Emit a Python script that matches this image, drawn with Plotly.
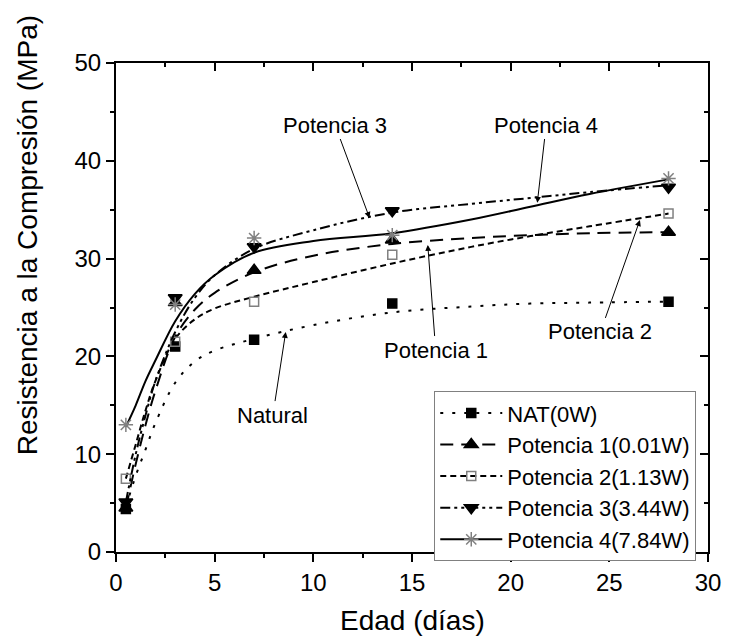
import plotly.graph_objects as go

# ---- measured data points ----
days = [0.5, 3, 7, 14, 28]
nat = [4.4, 21.0, 21.7, 25.4, 25.6]
pot1 = [4.5, 25.5, 28.8, 31.9, 32.7]
pot2 = [7.5, 21.5, 25.6, 30.4, 34.6]
pot3 = [5.1, 26.0, 31.2, 34.9, 37.3]
pot4 = [13.0, 25.3, 32.1, 32.4, 38.2]

# ---- fitted curves ----
curve_days = [0.5, 1, 1.5, 2, 3, 4, 5, 7, 10, 14, 18, 21, 24, 28]
nat_curve = [4.6, 7.8, 10.5, 13.2, 17.3, 19.5, 20.6, 21.8, 23.2, 24.5, 25.1, 25.4, 25.5, 25.6]
pot1_curve = [4.5, 9.0, 13.0, 16.5, 22.0, 24.8, 26.5, 28.6, 30.3, 31.5, 32.1, 32.4, 32.6, 32.7]
pot2_curve = [7.5, 11.0, 14.5, 17.5, 21.8, 23.8, 24.9, 26.1, 27.6, 29.5, 31.2, 32.3, 33.3, 34.6]
pot3_curve = [5.1, 10.0, 14.0, 17.5, 22.5, 26.0, 28.3, 31.0, 32.9, 34.7, 35.6, 36.2, 36.8, 37.5]
pot4_curve = [12.8, 15.0, 17.5, 19.6, 23.6, 26.4, 28.3, 30.6, 31.8, 32.6, 34.0, 35.3, 36.6, 38.1]

names = ["NAT(0W)", "Potencia 1(0.01W)", "Potencia 2(1.13W)", "Potencia 3(3.44W)", "Potencia 4(7.84W)"]

FONT = "Liberation Sans, Arial, sans-serif"

styles = [
    dict(dash="3px,9px", symbol="square", mcolor="black", msize=9, mline="black"),
    dict(dash="13px,8px", symbol="triangle-up", mcolor="black", msize=12, mline="black"),
    dict(dash="6px,4px", symbol="square-open", mcolor="#808080", msize=9, mline="#808080"),
    dict(dash="10px,4px,3px,4px,3px,4px", symbol="triangle-down", mcolor="black", msize=12, mline="black"),
    dict(dash="solid", symbol="asterisk-open", mcolor="#808080", msize=12, mline="#808080"),
]

points = [nat, pot1, pot2, pot3, pot4]
curves = [nat_curve, pot1_curve, pot2_curve, pot3_curve, pot4_curve]

fig = go.Figure()

for name, st, pts, cv in zip(names, styles, points, curves):
    fig.add_trace(go.Scatter(
        x=curve_days, y=cv, mode="lines", line_shape="spline",
        line=dict(color="black", width=2, dash=st["dash"]),
        showlegend=False, hoverinfo="skip"))
    fig.add_trace(go.Scatter(
        x=days, y=pts, mode="markers",
        marker=dict(symbol=st["symbol"], size=st["msize"], color=st["mcolor"],
                    line=dict(color=st["mline"], width=1.5)),
        showlegend=False))
    # legend entry
    fig.add_trace(go.Scatter(
        x=[None], y=[None], mode="lines+markers", name=name,
        line=dict(color="black", width=2, dash=st["dash"]),
        marker=dict(symbol=st["symbol"], size=st["msize"], color=st["mcolor"],
                    line=dict(color=st["mline"], width=1.5))))

# dummy trace for mirrored inward ticks
fig.add_trace(go.Scatter(x=[None], y=[None], xaxis="x2", yaxis="y2", showlegend=False))

annots = [
    ("Potencia 3", 12.85, 34.15, 11.1, 43.66),
    ("Potencia 4", 21.35, 35.7, 21.8, 43.66),
    ("Potencia 1", 15.8, 31.4, 16.2, 20.65),
    ("Potencia 2", 26.55, 33.95, 24.55, 22.5),
    ("Natural", 8.6, 22.5, 7.95, 14.0),
]
annotations = []
for txt, x, y, ax, ay in annots:
    annotations.append(dict(
        text=txt, x=x, y=y, ax=ax, ay=ay, xref="x", yref="y", axref="x", ayref="y",
        showarrow=True, arrowhead=2, arrowsize=1.2, arrowwidth=1, arrowcolor="black",
        standoff=0, font=dict(family=FONT, size=22, color="black")))

annotations.append(dict(text="Resistencia a la Compresión (MPa)", textangle=-90,
                        xref="paper", yref="paper", x=-0.15, y=0.648,
                        xanchor="center", yanchor="middle", showarrow=False,
                        font=dict(family=FONT, size=28, color="black")))
annotations.append(dict(text="Edad (días)", xref="paper", yref="paper", x=0.5, y=-0.141,
                        xanchor="center", yanchor="middle", showarrow=False,
                        font=dict(family=FONT, size=28, color="black")))

fig.update_layout(
    width=733, height=636,
    margin=dict(l=116, r=16, t=63, b=84),
    paper_bgcolor="white", plot_bgcolor="white",
    font=dict(family=FONT, size=24, color="black"),
    xaxis=dict(range=[0, 30], dtick=5, tick0=0, showgrid=False, zeroline=False,
               showline=True, linecolor="black", linewidth=2, mirror=True,
               ticks="outside", ticklen=8, tickwidth=2, tickcolor="black",
               minor=dict(dtick=2.5, ticks="outside", ticklen=4, tickwidth=1.5, tickcolor="black"),
               tickfont=dict(size=24)),
    yaxis=dict(range=[0, 50], dtick=10, tick0=0, showgrid=False, zeroline=False,
               showline=True, linecolor="black", linewidth=2, mirror=True,
               ticks="outside", ticklen=8, tickwidth=2, tickcolor="black",
               minor=dict(dtick=5, ticks="outside", ticklen=4, tickwidth=1.5, tickcolor="black"),
               tickfont=dict(size=24)),
    xaxis2=dict(range=[0, 30], dtick=5, overlaying="x", side="top", showgrid=False,
                zeroline=False, showticklabels=False, ticks="inside", ticklen=8,
                tickwidth=2, tickcolor="black",
                minor=dict(dtick=2.5, ticks="inside", ticklen=4, tickwidth=1.5, tickcolor="black")),
    yaxis2=dict(range=[0, 50], dtick=10, overlaying="y", side="right", showgrid=False,
                zeroline=False, showticklabels=False, ticks="inside", ticklen=8,
                tickwidth=2, tickcolor="black",
                minor=dict(dtick=5, ticks="inside", ticklen=4, tickwidth=1.5, tickcolor="black")),
    legend=dict(x=0.5376, y=0.329, xanchor="left", yanchor="top",
                bgcolor="white", bordercolor="#808080", borderwidth=1,
                font=dict(family=FONT, size=22, color="black"),
                itemwidth=62, tracegroupgap=0),
    annotations=annotations,
    showlegend=True,
)

fig.write_html("out.html", config={"displayModeBar": False},
               post_script="document.body.style.margin='0';document.body.style.overflow='hidden';")
